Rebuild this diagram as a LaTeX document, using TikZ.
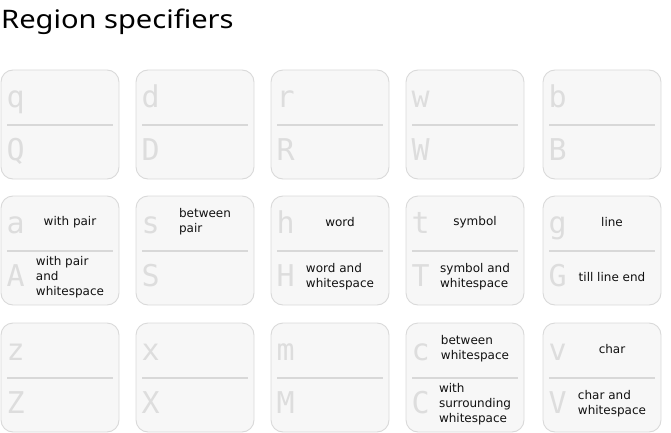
\documentclass[tikz,border=0pt]{standalone}
\usepackage{fontspec}
\setmainfont{DejaVu Sans}
\newfontfamily\titlefont[FakeStretch=1.14]{Noto Sans}
\newfontfamily\letterfont{DejaVu Sans Mono}
\definecolor{boxfill}{HTML}{F7F7F7}
\definecolor{boxline}{HTML}{D9D9D9}
\definecolor{divline}{HTML}{D8D8D8}
\definecolor{lettercol}{HTML}{DDDDDD}
\definecolor{labelcol}{HTML}{111111}
\tikzset{
  regbox/.style={draw=boxline, fill=boxfill, line width=0.9pt, rounded corners=12pt},
  divider/.style={draw=divline, line width=2.6pt},
  letter/.style={text=lettercol, font=\letterfont\fontsize{30}{32}\selectfont, inner sep=0pt, anchor=base west},
  lbl/.style={text=labelcol, font=\fontsize{12}{15}\selectfont, align=left, inner sep=0pt, anchor=center},
}
\newcommand\regbox[7]{%
  \draw[regbox] (#1,#2) rectangle (#1+118,#2+109);
  \draw[divider] (#1+6,#2+55) -- (#1+112,#2+55);
  \node[letter] (lo#3) at (#1+5.5,#2+37) {#4};
  \node[letter] (up#3) at (#1+5.5,#2+90) {#5};
  \node[lbl] (tl#3) at (#1+69,#2+26) {#6};
  \node[lbl] (bl#3) at (#1+69,#2+81) {#7};
}
\begin{document}
\begin{tikzpicture}[x=1pt,y=-1pt]
\useasboundingbox (0,0) rectangle (671,433);
\node[anchor=base west, inner sep=0pt, font=\titlefont\fontsize{25.5}{28}\selectfont, text=black] (title) at (1,29) {Region specifiers};
% row 1
\regbox{1}{70}{q}{q}{Q}{}{}
\regbox{136}{70}{d}{d}{D}{}{}
\regbox{271}{70}{r}{r}{R}{}{}
\regbox{406}{70}{w}{w}{W}{}{}
\regbox{543}{70}{b}{b}{B}{}{}
% row 2
\regbox{1}{196}{a}{a}{A}{with pair}{with pair\\and\\whitespace}
\regbox{136}{196}{s}{s}{S}{between\\pair}{}
\regbox{271}{196}{h}{h}{H}{word}{word and\\whitespace}
\regbox{406}{196}{t}{t}{T}{symbol}{symbol and\\whitespace}
\regbox{543}{196}{g}{g}{G}{line}{till line end}
% row 3
\regbox{1}{323}{z}{z}{Z}{}{}
\regbox{136}{323}{x}{x}{X}{}{}
\regbox{271}{323}{m}{m}{M}{}{}
\regbox{406}{323}{c}{c}{C}{between\\whitespace}{with\\surrounding\\whitespace}
\regbox{543}{323}{v}{v}{V}{char}{char and\\whitespace}
\end{tikzpicture}
\end{document}
